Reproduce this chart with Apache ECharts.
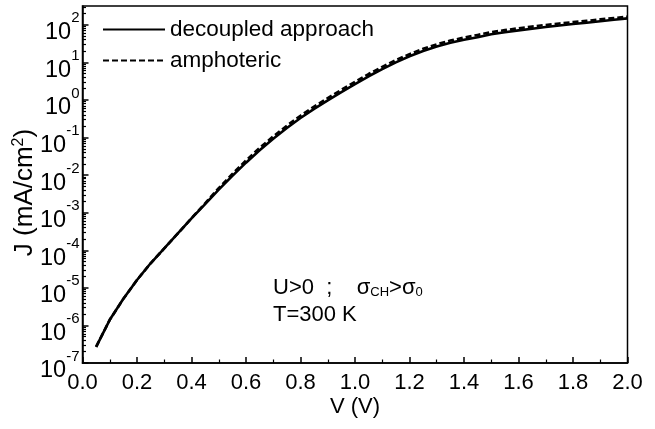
<!DOCTYPE html>
<html>
<head>
<meta charset="utf-8">
<script src="https://cdn.jsdelivr.net/npm/echarts@6/dist/echarts.min.js"></script>
<style>
  html, body { margin: 0; padding: 0; background: #fff; }
  #chart { width: 655px; height: 429px; }
</style>
</head>
<body>
<div id="chart"></div>
<script>
// Voltage (V)
const voltage = [0.05, 0.10, 0.15, 0.20, 0.25, 0.30, 0.35, 0.40, 0.45, 0.50, 0.55, 0.60, 0.65, 0.70, 0.75, 0.80, 0.85, 0.90, 0.95, 1.00,
                 1.05, 1.10, 1.15, 1.20, 1.25, 1.30, 1.35, 1.40, 1.45, 1.50, 1.55, 1.60, 1.65, 1.70, 1.75, 1.80, 1.85, 1.90, 1.95, 2.00];
// Current density J (mA/cm^2)
const jDecoupled = [2.7e-7, 1.41e-6, 5.1e-6, 1.62e-5, 4.5e-5, 1.12e-4, 2.8e-4, 7.1e-4, 1.7e-3, 4.1e-3, 9.5e-3, 2.14e-2, 4.6e-2, 9.3e-2, 0.18, 0.33, 0.58, 0.98, 1.62, 2.63,
                    4.27, 6.6, 10.0, 14.5, 20.0, 26.3, 33.1, 39.8, 46.8, 56, 63, 71, 78.5, 87, 95.5, 105, 113.5, 124.5, 135.5, 148];
const jAmphoteric = [2.7e-7, 1.41e-6, 5.1e-6, 1.62e-5, 4.5e-5, 1.12e-4, 2.8e-4, 7.1e-4, 1.78e-3, 4.5e-3, 1.07e-2, 2.45e-2, 5.3e-2, 0.107, 0.207, 0.38, 0.665, 1.125, 1.86, 3.02,
                     4.9, 7.6, 11.5, 16.6, 23.0, 30.2, 38.0, 45.7, 53.7, 64, 72, 81, 89.5, 99, 108, 118, 127, 139, 151, 164];
const seriesNames = ['decoupled approach', 'amphoteric'];
// Decade exponents labelled on the J axis
const yDecades = [-7, -6, -5, -4, -3, -2, -1, 0, 1, 2];
const yMinExp = -7, yMaxExp = 2.5;
const xMin = 0, xMax = 2, xStep = 0.2;

const minorTicks = [];
yDecades.forEach(function (n) {
  for (let k = 2; k <= 9; k++) {
    const v = n + Math.log10(k);
    if (v <= yMaxExp) minorTicks.push(v);
  }
});

function toPoints(xs, js) {
  return xs.map(function (x, i) { return [x, Math.log10(js[i])]; });
}

const FONT = '"Liberation Sans", Arial, sans-serif';
const chart = echarts.init(document.getElementById('chart'), null, { renderer: 'canvas' });

chart.setOption({
  animation: false,
  backgroundColor: '#ffffff',
  textStyle: { fontFamily: FONT, color: '#000' },
  grid: {
    left: 82.5, right: 27.5, top: 6, bottom: 66,
    outerBoundsMode: 'none', containLabel: false,
    show: true, borderColor: '#000', borderWidth: 1.5, backgroundColor: 'transparent'
  },
  legend: {
    orient: 'vertical',
    left: 97, top: 13,
    itemWidth: 62, itemHeight: 20, itemGap: 8,
    itemStyle: { opacity: 0 },
    textStyle: { fontFamily: FONT, fontSize: 22.5, color: '#000' },
    data: seriesNames
  },
  xAxis: {
    type: 'value', min: xMin, max: xMax, interval: xStep,
    name: 'V (V)', nameLocation: 'middle', nameGap: 33, nameMoveOverlap: false,
    nameTextStyle: { fontFamily: FONT, fontSize: 22, color: '#000' },
    axisLine: { onZero: false, lineStyle: { color: '#000', width: 1.5 } },
    axisTick: { inside: true, length: 6, lineStyle: { color: '#000', width: 1.5 } },
    minorTick: { show: true, splitNumber: 2, length: 3.5, lineStyle: { color: '#000', width: 1.2 } },
    splitLine: { show: false },
    axisLabel: {
      margin: 9, fontFamily: FONT, fontSize: 22, color: '#000',
      formatter: function (v) { return v.toFixed(1); }
    }
  },
  yAxis: [{
    type: 'value', min: yMinExp, max: yMaxExp, interval: 1,
    name: 'J (mA/cm{s|2}){e| }', nameLocation: 'middle', nameGap: 44, nameRotate: 90, nameMoveOverlap: false,
    nameTextStyle: {
      fontFamily: FONT, fontSize: 26, color: '#000',
      rich: {
        s: { fontFamily: FONT, fontSize: 16, verticalAlign: 'top', padding: [0, 0, 12, 0] },
        e: { fontFamily: FONT, fontSize: 16, width: 16 }
      }
    },
    axisLine: { onZero: false, lineStyle: { color: '#000', width: 1.5 } },
    axisTick: { inside: true, length: 6, customValues: yDecades, lineStyle: { color: '#000', width: 1.5 } },
    splitLine: { show: false },
    axisLabel: {
      margin: 3, customValues: yDecades,
      formatter: function (v) { return '{b|10}{s|' + v + '}'; },
      rich: {
        b: { fontFamily: FONT, fontSize: 23.5, color: '#000', padding: [16, 0, 0, 0] },
        s: { fontFamily: FONT, fontSize: 15, color: '#000', verticalAlign: 'top', padding: [6, 0, 0, 0] }
      }
    }
  }, {
    type: 'value', min: yMinExp, max: yMaxExp, interval: 1, position: 'left', offset: 0,
    axisLine: { show: false, onZero: false },
    axisTick: { show: true, inside: true, length: 3.5, customValues: minorTicks, lineStyle: { color: '#000', width: 1.2 } },
    axisLabel: { show: false },
    splitLine: { show: false }
  }],
  series: [{
    name: seriesNames[0], type: 'line', yAxisIndex: 0,
    data: toPoints(voltage, jDecoupled),
    smooth: false, symbol: 'none',
    lineStyle: { color: '#000', width: 2.6, type: 'solid', join: 'round' },
    itemStyle: { color: '#000' }
  }, {
    name: seriesNames[1], type: 'line', yAxisIndex: 0,
    data: toPoints(voltage, jAmphoteric),
    smooth: false, symbol: 'none',
    lineStyle: { color: '#000', width: 2.6, type: [6, 3], join: 'round' },
    itemStyle: { color: '#000' }
  }],
  graphic: [{
    type: 'text', left: 273, top: 277,
    style: {
      text: 'U>0  ;    σ{sub|CH}>σ{sub|0}',
      font: '22px ' + FONT, fill: '#000',
      rich: {
        sub: { fontFamily: FONT, fontSize: 13, fill: '#000', verticalAlign: 'bottom', lineHeight: 2 }
      }
    }
  }, {
    type: 'text', left: 273, top: 304,
    style: { text: 'T=300 K', font: '22px ' + FONT, fill: '#000' }
  }]
});
</script>
</body>
</html>
